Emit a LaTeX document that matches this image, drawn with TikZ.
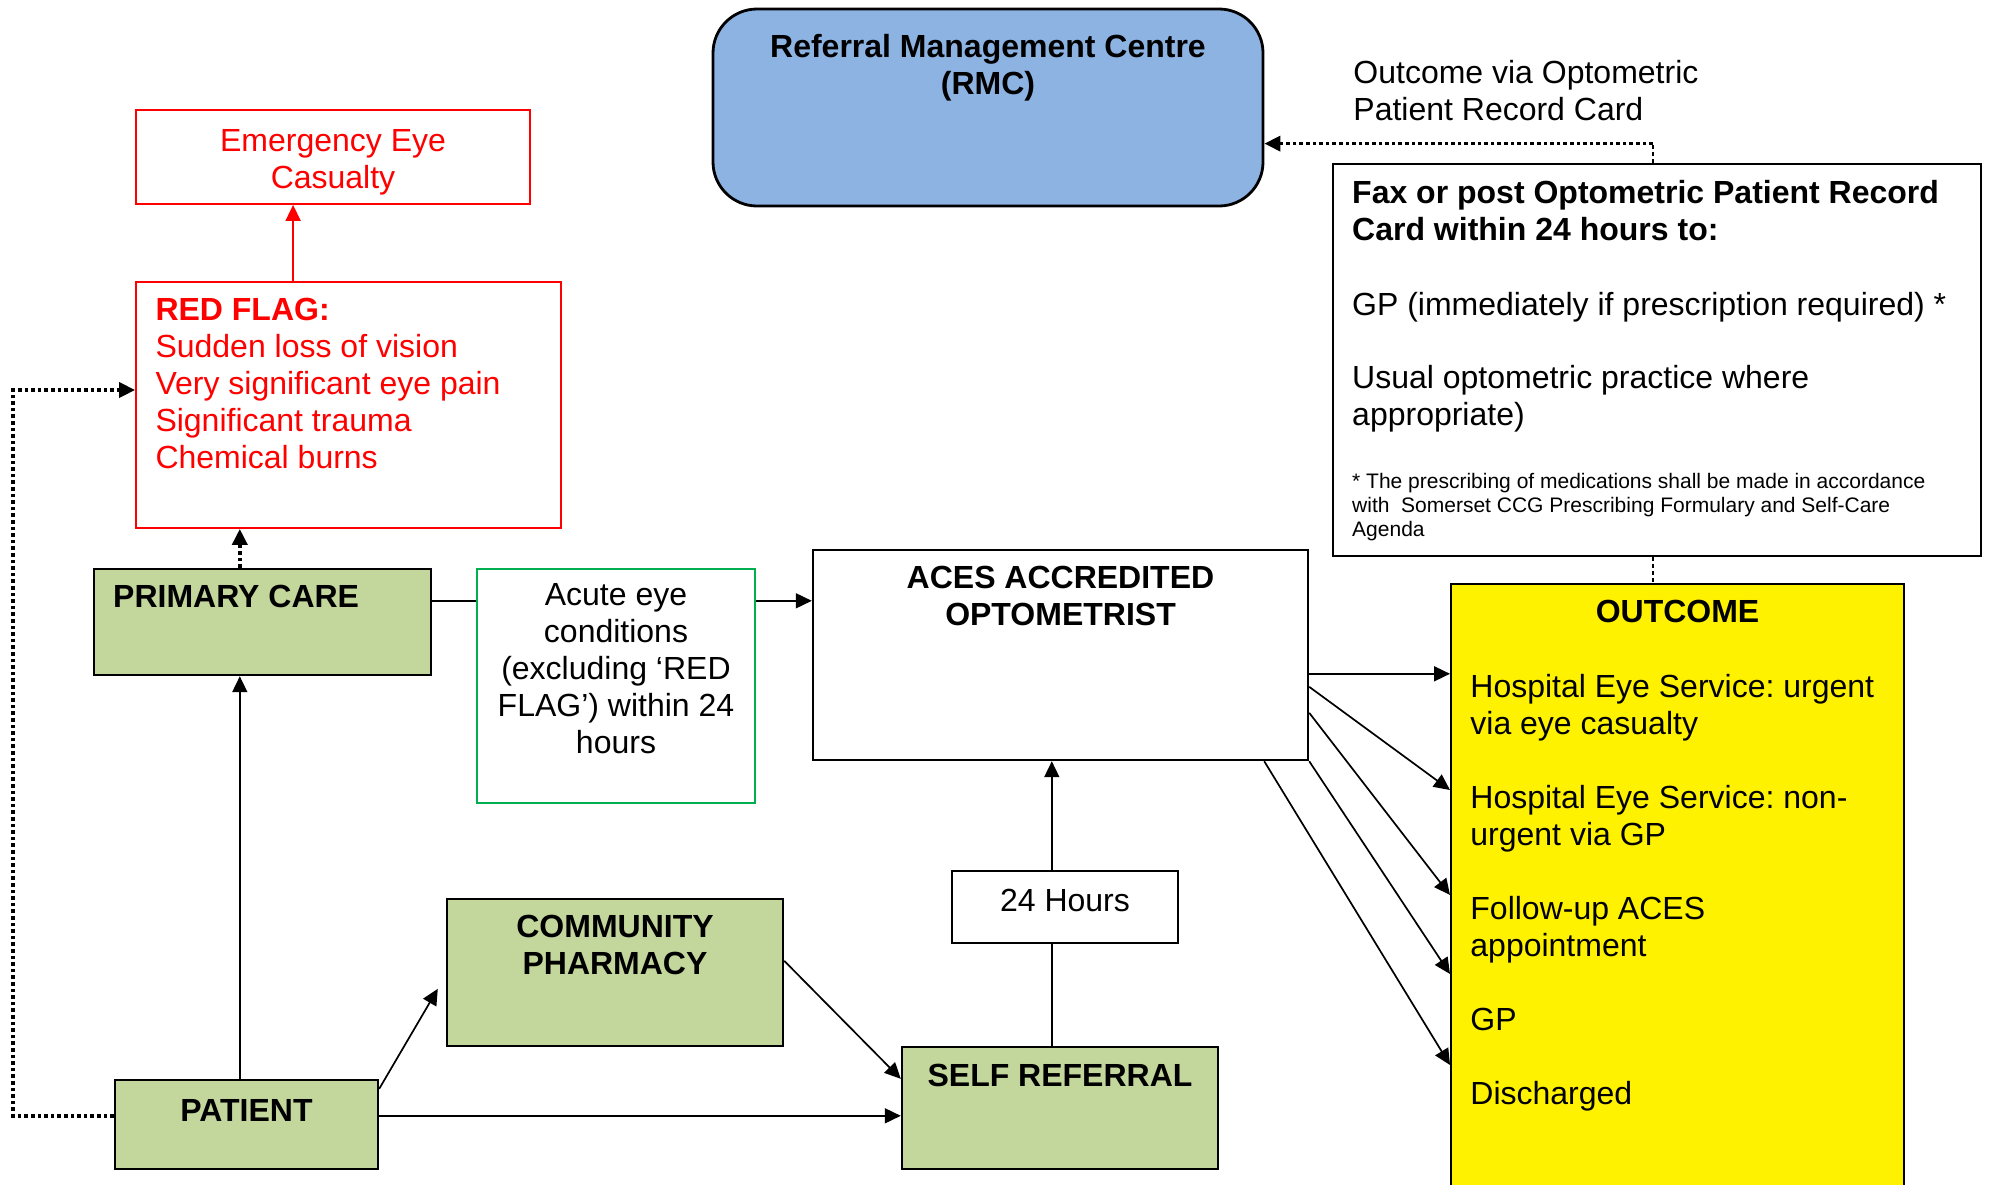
\documentclass[tikz,border=0pt]{standalone}
\usepackage{fontspec}
\setmainfont{Liberation Sans}
\frenchspacing
\usetikzlibrary{arrows.meta,calc}
\definecolor{boxgreen}{HTML}{C3D69B}
\definecolor{rmcblue}{HTML}{8DB3E2}
\definecolor{acutegreen}{HTML}{00B050}
\begin{document}
\begin{tikzpicture}[x=0.5pt,y=-0.5pt,
  every node/.style={font=\fontsize{16}{18.5}\selectfont, inner sep=0pt},
  bold/.style={font=\fontsize{16}{18.5}\selectfont\bfseries},
  small/.style={font=\fontsize{10.5}{12}\selectfont},
  box/.style={draw, line width=1.2pt, rectangle},
  greenbox/.style={box, fill=boxgreen},
  txt/.style={align=left, inner sep=0pt},
  conn/.style={line width=0.85pt},
  tip/.style={-{Triangle[length=8pt,width=7.5pt]}},
  arr/.style={conn, tip},
  dotarr/.style={line width=1.8pt, dash pattern=on 1.8pt off 1.5pt, tip},
  dotline/.style={line width=1.1pt, dash pattern=on 2pt off 1.5pt},
]
\useasboundingbox (0,0) rectangle (1990,1184);

% boxes
\node[draw=red, line width=0.9pt, minimum width=197pt, minimum height=47pt,
  label={[align=center, text=red, anchor=center, yshift=-2.5pt]center:{Emergency Eye\\Casualty}}] (emerg) at (333,157) {};

\node[draw=red, line width=0.9pt, minimum width=212.5pt, minimum height=123pt,
  label={[txt, text=red, anchor=north west, xshift=10pt, yshift=-8.5pt]north west:{\textbf{RED FLAG:}\\Sudden loss of vision\\Very significant eye pain\\Significant trauma\\Chemical burns}}] (redflag) at (348.5,405) {};

\node[greenbox, minimum width=168.5pt, minimum height=53pt,
  label={[bold, anchor=north west, xshift=10pt, yshift=-8.5pt]north west:{PRIMARY CARE}}] (primary) at (262.5,622) {};

\node[draw=acutegreen, line width=1pt, minimum width=139pt, minimum height=117pt,
  label={[align=center, anchor=north, yshift=-7.5pt]north:{Acute eye\\conditions\\(excluding ‘RED\\FLAG’) within 24\\hours}}] (acute) at (616,686) {};

\node[box, minimum width=247.5pt, minimum height=105pt,
  label={[bold, align=center, anchor=north, yshift=-8.5pt]north:{ACES ACCREDITED\\OPTOMETRIST}}] (aces) at (1060.5,655) {};

\node[draw, line width=1.4pt, fill=rmcblue, rounded corners=22pt, minimum width=275pt, minimum height=98.5pt,
  label={[bold, align=center, anchor=north, yshift=-13pt]north:{Referral Management Centre\\(RMC)}}] (rmc) at (988,107.5) {};

\node[txt, anchor=north west] (outvia) at (1353,60) {Outcome via Optometric\\Patient Record Card};

\node[box, minimum width=324pt, minimum height=196pt,
  label={[txt, anchor=north west, xshift=10pt, yshift=-8.5pt]north west:{\textbf{Fax or post Optometric Patient Record}\\\textbf{Card within 24 hours to:}\\[19pt]GP (immediately if prescription required) *\\[18pt]Usual optometric practice where\\appropriate)}},
  label={[txt, small, anchor=north west, xshift=10pt, yshift=-155pt]north west:{* The prescribing of medications shall be made in accordance\\with \ Somerset CCG Prescribing Formulary and Self-Care\\Agenda}}] (fax) at (1657,360) {};

\node[draw, line width=1pt, fill=yellow, minimum width=226.5pt, minimum height=308pt,
  label={[bold, anchor=north, yshift=-8.5pt]north:{OUTCOME}},
  label={[txt, anchor=north west, xshift=10pt, yshift=-45.5pt]north west:{Hospital Eye Service: urgent\\via eye casualty\\[18.5pt]Hospital Eye Service: non-\\urgent via GP\\[18.5pt]Follow-up ACES\\appointment\\[18.5pt]GP\\[18.5pt]Discharged}}] (outcome) at (1677.5,892) {};

\node[box, minimum width=113pt, minimum height=36pt,
  label={[anchor=center, yshift=3.5pt]center:{24 Hours}}] (hours) at (1065,907) {};

\node[greenbox, minimum width=158pt, minimum height=61pt,
  label={[bold, anchor=north, yshift=-9pt]north:{SELF REFERRAL}}] (selfref) at (1060,1108) {};

\node[greenbox, minimum width=168pt, minimum height=73.5pt,
  label={[bold, align=center, anchor=north, yshift=-8.5pt]north:{COMMUNITY\\PHARMACY}}] (pharm) at (615,972.5) {};

\node[greenbox, minimum width=131.5pt, minimum height=44.5pt,
  label={[bold, anchor=north, yshift=-10pt]north:{PATIENT}}] (patient) at (246.5,1124.5) {};

% connectors
\draw[red, conn, tip] ($(redflag.north west)+(158,0)$) coordinate (rf) -- (rf |- emerg.south);
\draw[dotarr] ($(primary.north west)+(147,0)$) coordinate (pc) -- (pc |- redflag.south);
\draw[arr] (patient.north -| pc) -- (primary.south -| pc);
\draw[conn] ($(primary.north east)+(0,33)$) coordinate (pa) -- (pa -| acute.west);
\draw[arr] (pa -| acute.east) -- (pa -| aces.west);

\draw[conn] ($(selfref.north west)+(151,0)$) coordinate (sr) -- (sr |- hours.south);
\draw[arr] (sr |- hours.north) -- (sr |- aces.south);

\draw[arr] ($(patient.north east)+(0,10)$) -- ($(pharm.north west)+(-8,91)$);
\draw[arr] ($(pharm.north east)+(0,63)$) -- ($(selfref.north west)+(0,33)$);
\draw[arr] ($(patient.north east)+(0,37)$) coordinate (pt) -- (pt -| selfref.west);

\coordinate (lft) at (13,390);
\draw[dotarr] (pt -| patient.west) -| (lft) -- (lft -| redflag.west);

\coordinate (fx) at ($(fax.north west)+(321,0)$);
\coordinate (rp) at ($(rmc.north east)+(0,136)$);
\draw[dotline] (fx) -- (fx |- rp);
\draw[dotarr] (fx |- rp) -- (rp);
\draw[dotline] (fx |- fax.south) -- (fx |- outcome.north);

\draw[arr] ($(aces.north east)+(0,125)$) coordinate (o1) -- (o1 -| outcome.west);
\draw[arr] ($(aces.north east)+(0,138)$) -- ($(outcome.north west)+(0,207)$);
\draw[arr] ($(aces.north east)+(0,164)$) -- ($(outcome.north west)+(0,312)$);
\draw[arr] (aces.south east) -- ($(outcome.north west)+(0,391)$);
\draw[arr] ($(aces.south east)+(-45,0)$) -- ($(outcome.north west)+(0,482)$);
\end{tikzpicture}
\end{document}
